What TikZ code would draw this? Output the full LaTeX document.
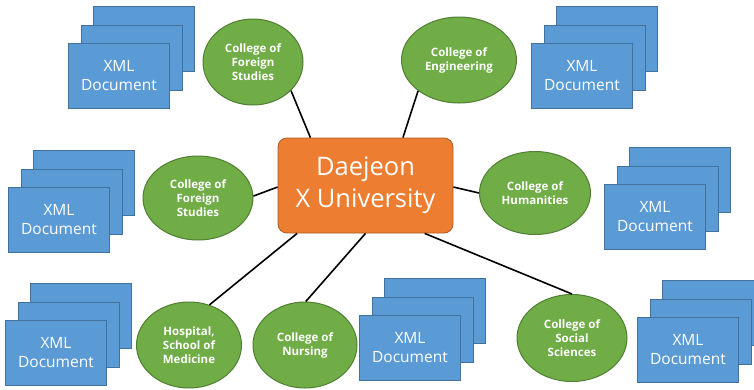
\documentclass[tikz,border=0pt]{standalone}
\usepackage{fontspec}
\setmainfont{Open Sans}
\usetikzlibrary{shapes.geometric, positioning}
\definecolor{uniorange}{HTML}{ED7D31}
\definecolor{uniedge}{HTML}{AE5A21}
\definecolor{collgreen}{HTML}{70AD47}
\definecolor{colledge}{HTML}{507E32}
\definecolor{docblue}{HTML}{5B9BD5}
\definecolor{docedge}{HTML}{41719C}
\tikzset{
  uni/.style={rectangle, draw=uniedge, fill=uniorange, rounded corners=9pt,
    minimum width=175pt, minimum height=95pt, align=center, text=white,
    font=\fontsize{25.5}{32}\selectfont, line width=0.8pt},
  college/.style={ellipse, draw=colledge, fill=collgreen, inner sep=0pt,
    align=center, text=white, font=\fontsize{11.5}{14}\selectfont\bfseries,
    line width=1pt},
  doc/.style={rectangle, draw=docedge, fill=docblue, minimum width=101pt,
    minimum height=65pt, align=center, text=white,
    font=\fontsize{15.5}{19}\selectfont, line width=1pt},
  link/.style={line width=1.6pt},
}

\begin{document}
\begin{tikzpicture}[x=1pt, y=-1pt]
  \clip (0,0) rectangle (754,389);
  \useasboundingbox (0,0) rectangle (754,389);

  % XML document stacks (back, middle, front)
  \foreach \name/\px/\py in {d1/119/76, d2/582/76, d3/59/220, d4/655/217,
                             d5/56/353, d6/410/348, d7/688/350} {
    \coordinate (\name) at (\px,\py);
    \node[doc] (\name-back) at ([xshift=25pt, yshift=37pt]\name) {};
    \node[doc] (\name-mid) at ([xshift=12.5pt, yshift=18.5pt]\name) {};
    \node[doc] (\name-front) at (\name) {XML\\Document};
  }

  % University
  \node[uni] (uni) at (365.5,185.5) {Daejeon\\X University};

  % Colleges
  \node[college, minimum width=100pt, minimum height=86pt] (fs1) at (253,62) {College of\\Foreign\\Studies};
  \node[college, minimum width=115pt, minimum height=86pt] (eng) at (459,60) {College of\\Engineering};
  \node[college, minimum width=110pt, minimum height=84pt] (fs2) at (198,198) {College of\\Foreign\\Studies};
  \node[college, minimum width=111pt, minimum height=83pt] (hum) at (535,193) {College of\\Humanities};
  \node[college, minimum width=105pt, minimum height=86pt] (med) at (189,345) {Hospital,\\School of\\Medicine};
  \node[college, minimum width=104pt, minimum height=86pt] (nurs) at (305,345) {College of\\Nursing};
  \node[college, minimum width=110pt, minimum height=87pt] (soc) at (572,338) {College of\\Social\\Sciences};

  \draw[link] (uni.139) -- (fs1.-37);
  \draw[link] (uni.52) -- (eng.217);
  \draw[link] (uni.181) -- (fs2.2);
  \draw[link] (uni.-1) -- (hum.180);
  \draw[link] (uni.215) -- (med.63);
  \draw[link] (uni.270) -- (nurs.89);
  \draw[link] (uni.-39) -- (soc.90);
\end{tikzpicture}
\end{document}
